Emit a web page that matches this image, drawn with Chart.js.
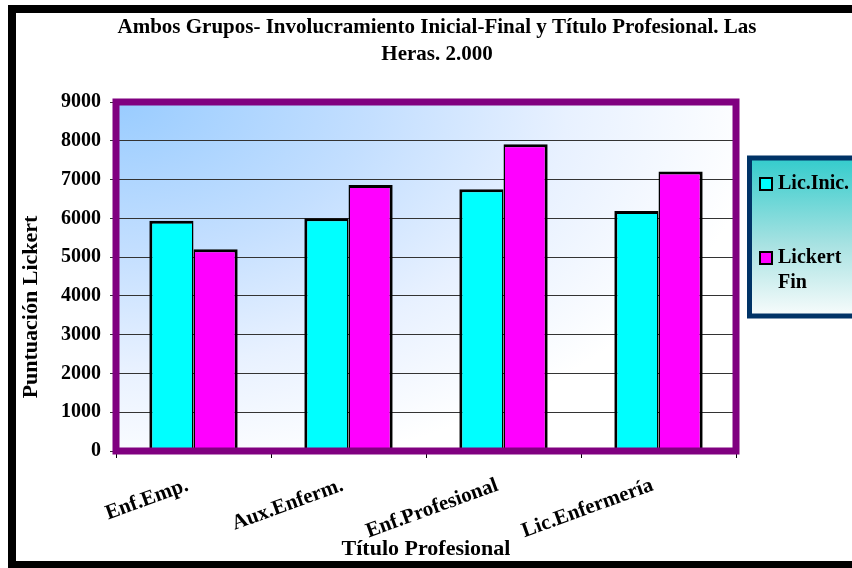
<!DOCTYPE html>
<html>
<head>
<meta charset="utf-8">
<script src="https://cdn.jsdelivr.net/npm/chart.js@4"></script>
<style>
  html, body { margin: 0; padding: 0; background: #fff; }
  #wrap { width: 852px; height: 568px; }
</style>
</head>
<body>
<div id="wrap"><canvas id="lickertChart" width="852" height="568"></canvas></div>
<script>
// Puntuación Lickert por título profesional
const categories = ["Enf.Emp.", "Aux.Enferm.", "Enf.Profesional", "Lic.Enfermería"];
const licInic = [5940, 6000, 6750, 6190];
const lickertFin = [5200, 6860, 7910, 7210];
const seriesNames = ["Lic.Inic.", "Lickert Fin"];
const yTicks = [0, 1000, 2000, 3000, 4000, 5000, 6000, 7000, 8000, 9000];

const titleLines = [
  "Ambos Grupos- Involucramiento Inicial-Final y Título Profesional. Las",
  "Heras. 2.000"
];
const yTitle = "Puntuación Lickert";
const xTitle = "Título Profesional";

const SERIF = '"Liberation Serif", "Times New Roman", serif';
Chart.defaults.font.family = SERIF;
Chart.defaults.color = "#000";

// outer frame, plot background gradient, titles
const Decor = {
  id: "decor",
  beforeDraw(chart) {
    const { ctx, chartArea: a } = chart;
    ctx.save();
    // black page border
    ctx.strokeStyle = "#000";
    ctx.lineWidth = 8;
    ctx.strokeRect(12, 9, 900, 556);

    // plot area fill: elliptical glow from the upper left corner
    ctx.save();
    ctx.beginPath();
    ctx.rect(a.left, a.top, a.right - a.left, a.bottom - a.top);
    ctx.clip();
    ctx.translate(a.left, a.top);
    ctx.scale(1.7, 1);
    const g = ctx.createRadialGradient(0, 0, 0, 0, 0, 380);
    g.addColorStop(0, "#99ccff");
    g.addColorStop(0.4, "#c4dfff");
    g.addColorStop(0.7, "#e8f1ff");
    g.addColorStop(1, "#ffffff");
    ctx.fillStyle = g;
    ctx.fillRect(0, 0, 400, 360);
    ctx.restore();

    // chart title
    ctx.fillStyle = "#000";
    ctx.font = "bold 21px " + SERIF;
    ctx.textAlign = "center";
    ctx.textBaseline = "middle";
    titleLines.forEach((t, i) => ctx.fillText(t, 437, 28 + i * 27));

    // y axis title
    ctx.font = "bold 22px " + SERIF;
    ctx.translate(31, 307);
    ctx.rotate(-Math.PI / 2);
    ctx.fillText(yTitle, 0, 0);
    ctx.restore();
  },
  afterDatasetsDraw(chart) {
    const { ctx, chartArea: a } = chart;
    ctx.save();
    // purple frame around the plot
    ctx.strokeStyle = "#800080";
    ctx.lineWidth = 7;
    ctx.strokeRect(a.left, a.top, a.right - a.left, a.bottom - a.top);
    ctx.restore();
  }
};

// legend box with gradient fill, labels wrap inside
const BoxLegend = {
  id: "boxLegend",
  afterDraw(chart) {
    const { ctx } = chart;
    const x = 749.5, y = 158, w = 200, h = 158;
    ctx.save();
    const g = ctx.createLinearGradient(0, y, 0, y + h);
    g.addColorStop(0, "#33cccc");
    g.addColorStop(0.55, "#a8e2e2");
    g.addColorStop(1, "#f8fcfc");
    ctx.fillStyle = g;
    ctx.fillRect(x, y, w, h);
    ctx.strokeStyle = "#003366";
    ctx.lineWidth = 5;
    ctx.strokeRect(x, y, w, h);

    ctx.font = "bold 20px " + SERIF;
    ctx.textBaseline = "middle";
    ctx.textAlign = "left";
    const rows = [184, 258];
    chart.data.datasets.forEach((ds, i) => {
      const cy = rows[i];
      ctx.fillStyle = ds.backgroundColor;
      ctx.fillRect(760, cy - 6, 12, 12);
      ctx.strokeStyle = "#000";
      ctx.lineWidth = 2;
      ctx.strokeRect(760, cy - 6, 12, 12);
      ctx.fillStyle = "#000";
      // wrap words past the box width
      const words = ds.label.split(" ");
      let line = "", ly = cy;
      words.forEach((wd) => {
        const test = line ? line + " " + wd : wd;
        if (line && ctx.measureText(test).width > 80) {
          ctx.fillText(line, 778, ly);
          line = wd;
          ly += 25;
        } else {
          line = test;
        }
      });
      ctx.fillText(line, 778, ly);
    });
    ctx.restore();
  }
};

new Chart(document.getElementById("lickertChart"), {
  type: "bar",
  data: {
    labels: categories,
    datasets: [
      {
        label: seriesNames[0],
        data: licInic,
        backgroundColor: "#00ffff",
        borderColor: "#000",
        borderWidth: { top: 3, left: 3, right: 1.5, bottom: 0 },
        borderSkipped: false
      },
      {
        label: seriesNames[1],
        data: lickertFin,
        backgroundColor: "#ff00ff",
        borderColor: "#000",
        borderWidth: { top: 3, left: 1.5, right: 3, bottom: 0 },
        borderSkipped: false
      }
    ]
  },
  options: {
    responsive: false,
    animation: false,
    layout: { padding: { top: 102, right: 116, left: 0, bottom: 0 } },
    datasets: { bar: { categoryPercentage: 0.57, barPercentage: 1 } },
    plugins: {
      legend: { display: false },
      title: { display: false },
      tooltip: { enabled: false }
    },
    scales: {
      x: {
        afterFit: (s) => { s.height = 117; },
        border: { display: false },
        grid: { drawOnChartArea: false, tickLength: 7, color: "#000", lineWidth: 1 },
        ticks: {
          font: { size: 21, weight: "bold" },
          minRotation: 20,
          maxRotation: 20,
          padding: 15,
          labelOffset: -6,
          autoSkip: false
        },
        title: {
          display: true,
          text: xTitle,
          font: { size: 22, weight: "bold" },
          padding: { top: 0, bottom: 5 }
        }
      },
      y: {
        min: 0,
        max: 9000,
        afterFit: (s) => { s.width = 116; },
        afterBuildTicks: (s) => { s.ticks = yTicks.map((v) => ({ value: v })); },
        border: { display: false },
        grid: { color: "#333", lineWidth: 1, tickLength: 6 },
        ticks: {
          font: { size: 20, weight: "bold" },
          padding: 9,
          callback: (v) => String(v)
        }
      }
    }
  },
  plugins: [Decor, BoxLegend]
});
</script>
</body>
</html>
